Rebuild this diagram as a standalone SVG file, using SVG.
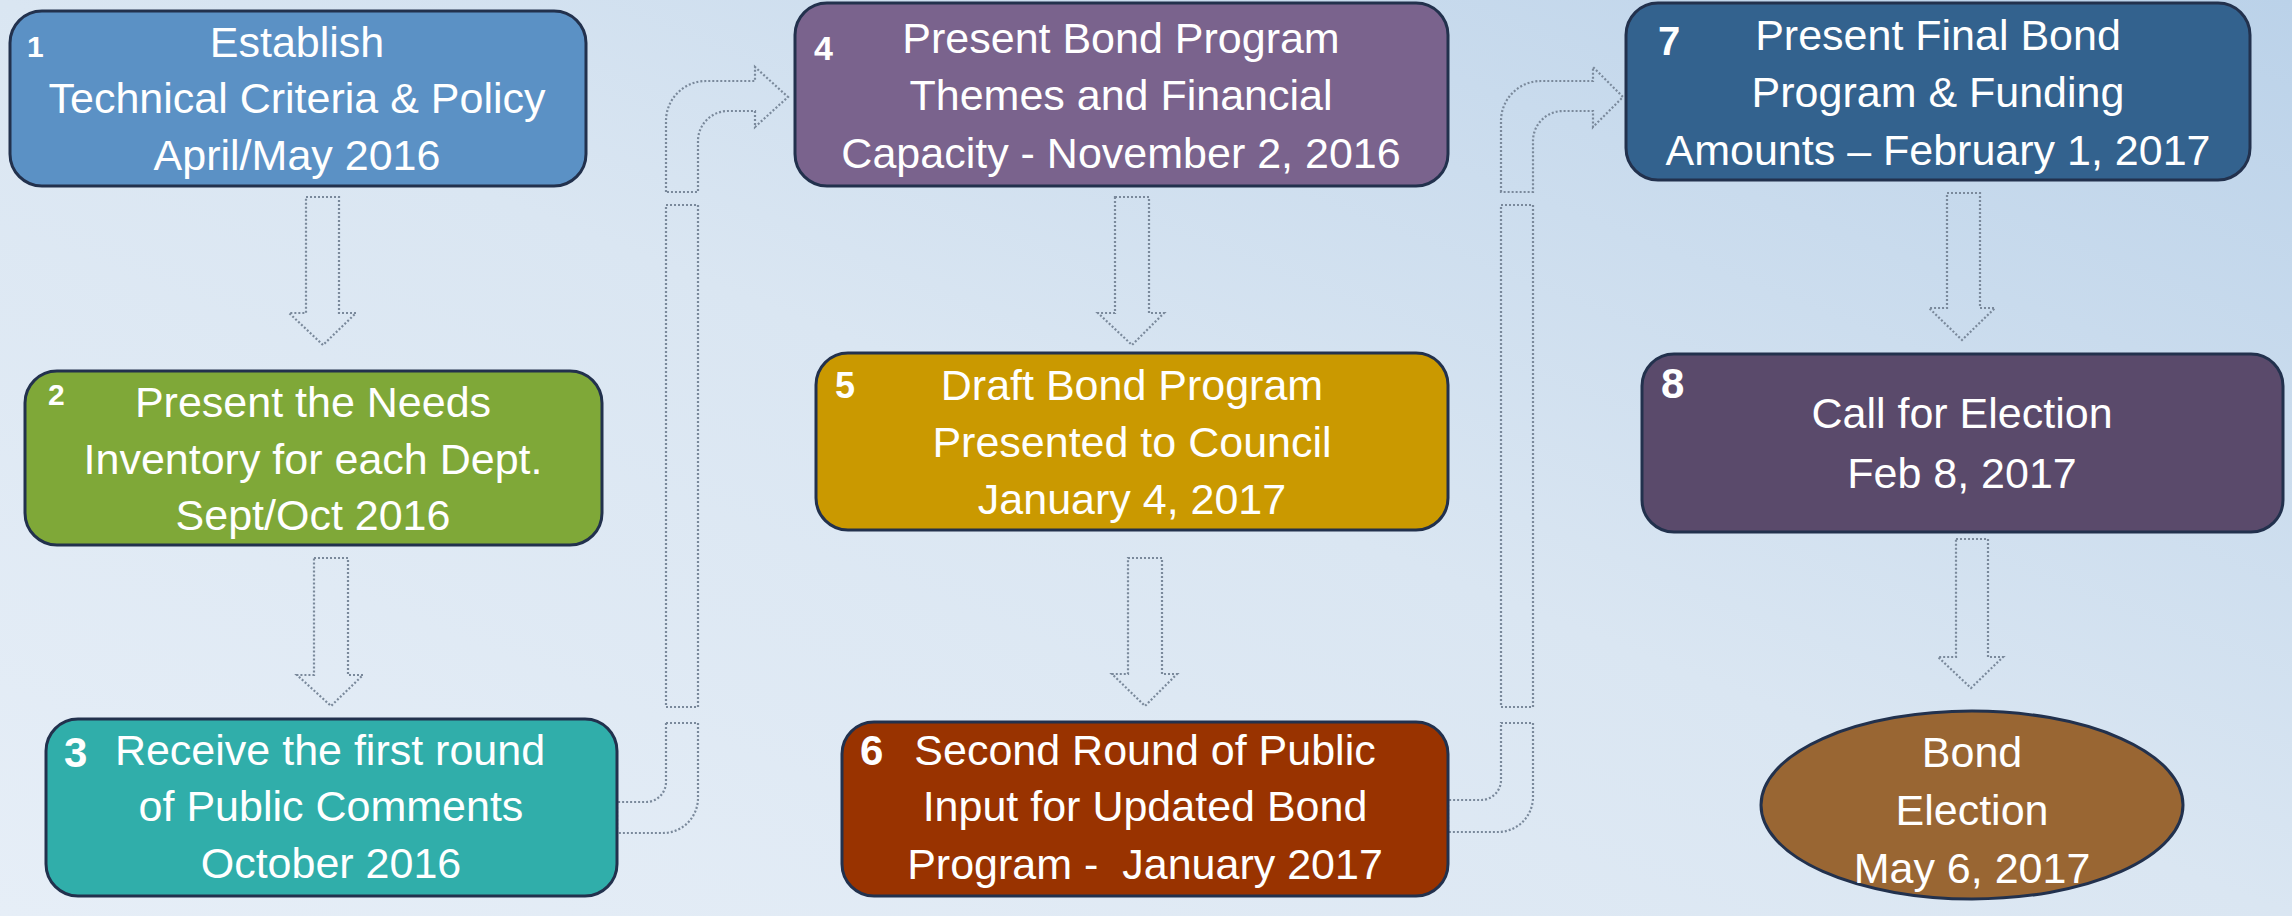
<svg xmlns="http://www.w3.org/2000/svg" width="2292" height="916" viewBox="0 0 2292 916">
<defs>
<linearGradient id="bg" x1="0" y1="1" x2="1" y2="0">
<stop offset="0" stop-color="#e6eef7"/>
<stop offset="0.5" stop-color="#dae6f2"/>
<stop offset="1" stop-color="#bbd2e9"/>
</linearGradient>
</defs>
<style>
.box{stroke:#22314d;stroke-width:3}
.t{font-family:"Liberation Sans",Arial,sans-serif;font-size:43px;fill:#ffffff;text-anchor:middle}
.n{font-family:"Liberation Sans",Arial,sans-serif;font-weight:bold;fill:#ffffff}
.arr{fill:none;stroke:#7a899b;stroke-width:2.2;stroke-dasharray:2 2}
</style>
<rect x="0" y="0" width="2292" height="916" fill="url(#bg)"/>
<g id="connectors">
<path class="arr" d="M306 197 L339 197 L339 313 L356 313 L323 345 L289 313 L306 313 Z"/>
<path class="arr" d="M314 558 L348 558 L348 675 L363 675 L331 706 L297 675 L314 675 Z"/>
<path class="arr" d="M1115 197 L1149 197 L1149 313 L1164 313 L1132 345 L1098 313 L1115 313 Z"/>
<path class="arr" d="M1128 558 L1162 558 L1162 674 L1177 674 L1145 706 L1112 674 L1128 674 Z"/>
<path class="arr" d="M1947 193 L1980 193 L1980 308 L1995 308 L1962 340 L1929 308 L1947 308 Z"/>
<path class="arr" d="M1956 539 L1988 539 L1988 657 L2003 657 L1971 688 L1938 657 L1956 657 Z"/>
<path class="arr" d="M666 192 L666 121 A40 40 0 0 1 706 81 L755 81 L755 67 L788 97 L755 127 L755 111 L728 111 A30 30 0 0 0 698 141 L698 192 Z"/>
<path class="arr" d="M666 205 L698 205 L698 707 L666 707 Z"/>
<path class="arr" d="M666 723 L698 723 L698 798 A35 35 0 0 1 663 833 L617 833 L617 802 L646 802 A20 20 0 0 0 666 782 Z"/>
<path class="arr" d="M1501 192 L1501 121 A40 40 0 0 1 1541 81 L1593 81 L1593 67 L1623 97 L1593 127 L1593 111 L1563 111 A30 30 0 0 0 1533 141 L1533 192 Z"/>
<path class="arr" d="M1501 205 L1533 205 L1533 707 L1501 707 Z"/>
<path class="arr" d="M1501 723 L1533 723 L1533 797 A35 35 0 0 1 1498 832 L1448 832 L1448 800 L1481 800 A20 20 0 0 0 1501 780 Z"/>
</g>
<g id="node1">
<rect class="box" x="10" y="11" width="576" height="175" rx="32" fill="#5b91c5"/>
<text class="n" x="27" y="57" font-size="30">1</text>
<text class="t" x="297" y="57">Establish</text>
<text class="t" x="297" y="113">Technical Criteria &amp; Policy</text>
<text class="t" x="297" y="170">April/May 2016</text>
</g>
<g id="node2">
<rect class="box" x="25" y="371" width="577" height="174" rx="32" fill="#7fa838"/>
<text class="n" x="48" y="405" font-size="30">2</text>
<text class="t" x="313" y="417">Present the Needs</text>
<text class="t" x="313" y="474">Inventory for each Dept.</text>
<text class="t" x="313" y="530">Sept/Oct 2016</text>
</g>
<g id="node3">
<rect class="box" x="46" y="719" width="571" height="177" rx="32" fill="#30aeaa"/>
<text class="n" x="64" y="767" font-size="42" font-weight="normal">3</text>
<text class="t" x="330" y="765">Receive the first round</text>
<text class="t" x="331" y="821">of Public Comments</text>
<text class="t" x="331" y="878">October 2016</text>
</g>
<g id="node4">
<rect class="box" x="795" y="3" width="653" height="183" rx="32" fill="#7a638d"/>
<text class="n" x="814" y="60" font-size="34">4</text>
<text class="t" x="1121" y="53">Present Bond Program</text>
<text class="t" x="1121" y="110">Themes and Financial</text>
<text class="t" x="1121" y="168">Capacity - November 2, 2016</text>
</g>
<g id="node5">
<rect class="box" x="816" y="353" width="632" height="177" rx="32" fill="#ca9900"/>
<text class="n" x="835" y="398" font-size="36">5</text>
<text class="t" x="1132" y="400">Draft Bond Program</text>
<text class="t" x="1132" y="457">Presented to Council</text>
<text class="t" x="1132" y="514">January 4, 2017</text>
</g>
<g id="node6">
<rect class="box" x="842" y="722" width="606" height="174" rx="32" fill="#993300"/>
<text class="n" x="860" y="765" font-size="42" font-weight="normal">6</text>
<text class="t" x="1145" y="765">Second Round of Public</text>
<text class="t" x="1145" y="821">Input for Updated Bond</text>
<text class="t" x="1145" y="879" xml:space="preserve">Program -  January 2017</text>
</g>
<g id="node7">
<rect class="box" x="1626" y="3" width="624" height="177" rx="32" fill="#33628e"/>
<text class="n" x="1658" y="55" font-size="40">7</text>
<text class="t" x="1938" y="50">Present Final Bond</text>
<text class="t" x="1938" y="107">Program &amp; Funding</text>
<text class="t" x="1938" y="165">Amounts – February 1, 2017</text>
</g>
<g id="node8">
<rect class="box" x="1642" y="354" width="641" height="178" rx="32" fill="#5a4a6b"/>
<text class="n" x="1661" y="398" font-size="42" font-weight="normal">8</text>
<text class="t" x="1962" y="428">Call for Election</text>
<text class="t" x="1962" y="488">Feb 8, 2017</text>
</g>
<g id="node9">
<ellipse class="box" cx="1972" cy="805" rx="211" ry="94" fill="#996633"/>
<text class="t" x="1972" y="767">Bond</text>
<text class="t" x="1972" y="825">Election</text>
<text class="t" x="1972" y="883">May 6, 2017</text>
</g>
</svg>
